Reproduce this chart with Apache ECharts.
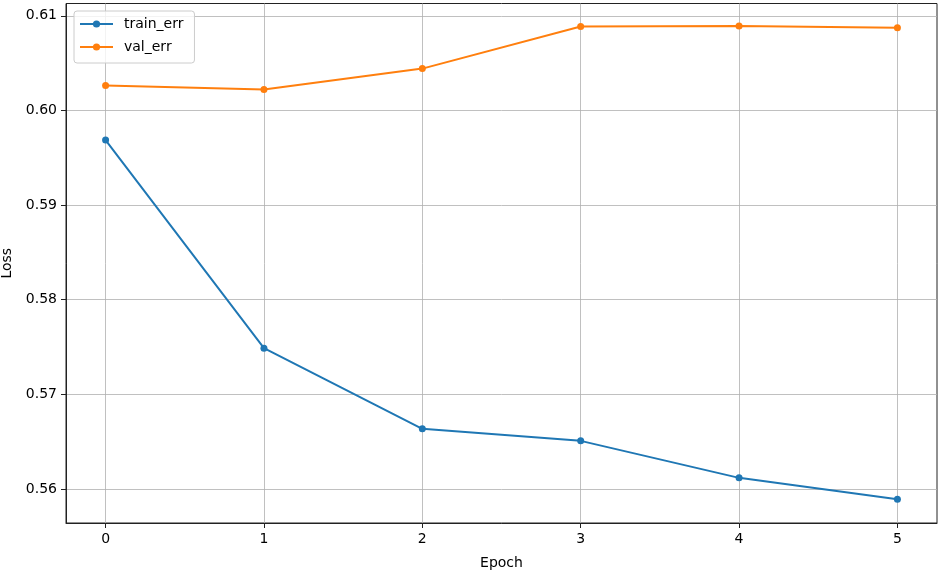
<!DOCTYPE html>
<html>
<head>
<meta charset="utf-8">
<script src="https://cdn.jsdelivr.net/npm/echarts@6/dist/echarts.min.js"></script>
<style>html,body{margin:0;padding:0;background:#fff}#c{width:938px;height:577px}</style>
</head>
<body>
<div id="c"></div>
<script>
const epochs = [0, 1, 2, 3, 4, 5];
const trainErr = [0.59687, 0.57488, 0.56635, 0.56508, 0.56117, 0.5589];
const valErr = [0.60263, 0.60220, 0.60442, 0.60886, 0.60891, 0.60875];
const xTicks = [0, 1, 2, 3, 4, 5];
const yTicks = [0.56, 0.57, 0.58, 0.59, 0.60, 0.61];

const font = 'DejaVu Sans';
const chart = echarts.init(document.getElementById('c'), null, {renderer: 'canvas'});
const axisCommon = {
  axisLine: {show: true, onZero: false, lineStyle: {color: '#222', width: 1}},
  axisTick: {show: true, inside: false, length: 5, lineStyle: {color: '#222', width: 1}},
  axisLabel: {color: '#000', fontFamily: font, fontSize: 14},
  splitLine: {show: true, lineStyle: {color: '#b0b0b0', width: 0.8}},
  nameTextStyle: {color: '#000', fontFamily: font, fontSize: 14}
};
chart.setOption({
  animation: false,
  backgroundColor: '#fff',
  grid: {left: 66, right: 1, top: 3.5, bottom: 54, containLabel: false, outerBoundsMode: 'none',
         show: true, borderColor: '#222', borderWidth: 1, backgroundColor: 'transparent'},
  legend: {
    orient: 'vertical', left: 74, top: 11,
    backgroundColor: 'rgba(255,255,255,0.8)', borderColor: '#ccc', borderWidth: 1, borderRadius: 3,
    padding: [6, 11, 9, 5], itemGap: 9, itemWidth: 33, itemHeight: 9,
    textStyle: {color: '#000', fontFamily: font, fontSize: 14, padding: [0, 0, 0, 6]},
    data: ['train_err', 'val_err']
  },
  xAxis: Object.assign({}, axisCommon, {
    type: 'value', min: -0.25, max: 5.25,
    name: 'Epoch', nameLocation: 'middle', nameGap: 33,
    axisTick: Object.assign({}, axisCommon.axisTick, {customValues: xTicks}),
    axisLabel: Object.assign({}, axisCommon.axisLabel, {customValues: xTicks, margin: 9, formatter: v => String(v)})
  }),
  yAxis: Object.assign({}, axisCommon, {
    type: 'value', min: 0.5564, max: 0.6113,
    name: 'Loss', nameLocation: 'middle', nameGap: 52,
    axisTick: Object.assign({}, axisCommon.axisTick, {customValues: yTicks}),
    axisLabel: Object.assign({}, axisCommon.axisLabel, {customValues: yTicks, margin: 9, formatter: v => v.toFixed(2)})
  }),
  series: [
    {name: 'train_err', type: 'line', data: epochs.map((e, i) => [e, trainErr[i]]),
     symbol: 'circle', symbolSize: 7, showSymbol: true,
     lineStyle: {color: '#1f77b4', width: 2}, itemStyle: {color: '#1f77b4'}},
    {name: 'val_err', type: 'line', data: epochs.map((e, i) => [e, valErr[i]]),
     symbol: 'circle', symbolSize: 7, showSymbol: true,
     lineStyle: {color: '#ff7f0e', width: 2}, itemStyle: {color: '#ff7f0e'}}
  ]
});
</script>
</body>
</html>
